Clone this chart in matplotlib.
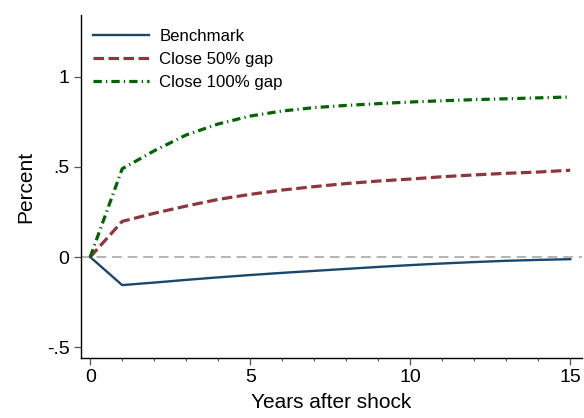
import matplotlib
matplotlib.use("Agg")
import matplotlib.pyplot as plt
from matplotlib.ticker import FixedLocator, MultipleLocator

plt.rcParams["font.family"] = ["Liberation Sans", "DejaVu Sans"]

# Impulse responses
years = list(range(16))
benchmark = [0, -0.156, -0.142, -0.127, -0.113, -0.100, -0.088, -0.077,
             -0.066, -0.055, -0.045, -0.036, -0.028, -0.021, -0.016, -0.012]
close_50 = [0, 0.198, 0.243, 0.283, 0.320, 0.348, 0.372, 0.391,
            0.408, 0.422, 0.433, 0.446, 0.456, 0.465, 0.472, 0.482]
close_100 = [0, 0.490, 0.590, 0.678, 0.739, 0.783, 0.811, 0.830,
             0.842, 0.852, 0.861, 0.868, 0.874, 0.879, 0.884, 0.889]

y_ticks = [-0.5, 0, 0.5, 1]
y_tick_labels = ["-.5", "0", ".5", "1"]
x_ticks = [0, 5, 10, 15]

fig = plt.figure(figsize=(5.84, 4.18), dpi=100)
ax = fig.add_axes([0.138, 0.1435, 0.859, 0.8205])

ax.axhline(0, color="#b4b4b4", linewidth=1.4, dashes=(5, 3), zorder=1)

ax.plot(years, benchmark, color="#1a476f", linewidth=1.7, label="Benchmark", zorder=3)
ax.plot(years, close_50, color="#90353b", linewidth=2.3, dashes=(3.3, 1.4),
        label="Close 50% gap", zorder=3)
ax.plot(years, close_100, color="#006400", linewidth=2.3, dashes=(2.6, 1.3, 0.4, 1.3),
        label="Close 100% gap", zorder=3)

ax.set_xlim(-0.3, 15.375)
ax.set_ylim(-0.561, 1.344)

ax.xaxis.set_major_locator(FixedLocator(x_ticks))
ax.xaxis.set_minor_locator(MultipleLocator(1))
ax.set_yticks(y_ticks)
ax.set_yticklabels(y_tick_labels)

for side in ["top", "right"]:
    ax.spines[side].set_visible(False)
ax.spines["left"].set_linewidth(1.0)
ax.spines["bottom"].set_linewidth(1.0)

ax.tick_params(axis="both", which="major", labelsize=14, length=5, width=0.9,
               color="#555555", pad=3)
ax.tick_params(axis="x", which="minor", length=2.5, width=0.8, color="#555555")

ax.set_xlabel("Years after shock", fontsize=15, labelpad=5)
ax.set_ylabel("Percent", fontsize=15, labelpad=8)

ax.legend(loc="upper left", frameon=False, fontsize=12.1, handlelength=3.35,
          handletextpad=0.62, labelspacing=0.5, borderaxespad=0.2,
          bbox_to_anchor=(0.004, 0.99))

fig.savefig("out.png", dpi=100)
